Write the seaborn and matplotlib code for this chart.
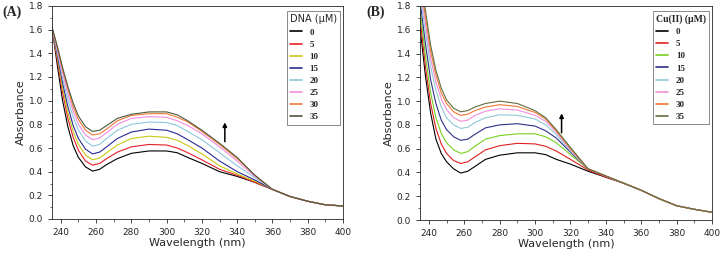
import matplotlib
matplotlib.use("Agg")
import matplotlib.pyplot as plt
from matplotlib.ticker import MultipleLocator
import numpy as np
import pandas as pd
import seaborn as sns

WAVELENGTH = [235, 238, 241, 244, 247, 250, 254, 258, 262, 266, 272, 280,
              290, 300, 306, 312, 320, 330, 340, 350, 360, 370, 380, 390, 400]
CONCS = ["0", "5", "10", "15", "20", "25", "30", "35"]

# Panel A: DNA titration
ABS_A = {
    "0":  [1.62, 1.30, 1.00, 0.78, 0.62, 0.52, 0.44, 0.405, 0.42, 0.46, 0.51, 0.555,
           0.575, 0.575, 0.56, 0.52, 0.47, 0.40, 0.36, 0.31, 0.25, 0.19, 0.15, 0.12, 0.11],
    "5":  [1.62, 1.34, 1.07, 0.85, 0.69, 0.58, 0.49, 0.455, 0.47, 0.51, 0.565, 0.61,
           0.63, 0.625, 0.60, 0.56, 0.50, 0.42, 0.37, 0.31, 0.25, 0.19, 0.15, 0.12, 0.11],
    "10": [1.62, 1.37, 1.11, 0.90, 0.74, 0.63, 0.54, 0.50, 0.515, 0.56, 0.625, 0.68,
           0.70, 0.69, 0.665, 0.62, 0.55, 0.45, 0.38, 0.32, 0.25, 0.19, 0.15, 0.12, 0.11],
    "15": [1.62, 1.39, 1.15, 0.95, 0.79, 0.68, 0.59, 0.55, 0.565, 0.61, 0.68, 0.735,
           0.76, 0.75, 0.72, 0.67, 0.60, 0.49, 0.40, 0.33, 0.25, 0.19, 0.15, 0.12, 0.11],
    "20": [1.62, 1.41, 1.19, 1.01, 0.86, 0.75, 0.66, 0.615, 0.63, 0.68, 0.75, 0.80,
           0.82, 0.815, 0.79, 0.74, 0.67, 0.56, 0.45, 0.35, 0.25, 0.19, 0.15, 0.12, 0.11],
    "25": [1.62, 1.43, 1.23, 1.06, 0.91, 0.80, 0.71, 0.67, 0.685, 0.73, 0.80, 0.85,
           0.865, 0.86, 0.83, 0.79, 0.72, 0.61, 0.49, 0.36, 0.25, 0.19, 0.15, 0.12, 0.11],
    "30": [1.62, 1.45, 1.26, 1.10, 0.95, 0.84, 0.75, 0.71, 0.72, 0.76, 0.83, 0.875,
           0.89, 0.89, 0.86, 0.82, 0.74, 0.63, 0.51, 0.37, 0.25, 0.19, 0.15, 0.12, 0.11],
    "35": [1.62, 1.46, 1.28, 1.12, 0.98, 0.87, 0.78, 0.74, 0.75, 0.79, 0.85, 0.885,
           0.905, 0.905, 0.88, 0.83, 0.75, 0.64, 0.52, 0.37, 0.25, 0.19, 0.15, 0.12, 0.11],
}

# Panel B: Cu(II) titration
ABS_B = {
    "0":  [1.62, 1.22, 0.90, 0.68, 0.56, 0.49, 0.43, 0.395, 0.41, 0.45, 0.51, 0.545,
           0.565, 0.565, 0.55, 0.51, 0.47, 0.41, 0.36, 0.31, 0.25, 0.18, 0.12, 0.09, 0.065],
    "5":  [1.70, 1.30, 0.98, 0.77, 0.64, 0.56, 0.50, 0.475, 0.49, 0.53, 0.59, 0.625,
           0.645, 0.64, 0.62, 0.58, 0.51, 0.42, 0.36, 0.31, 0.25, 0.18, 0.12, 0.09, 0.065],
    "10": [1.78, 1.39, 1.07, 0.86, 0.73, 0.65, 0.59, 0.56, 0.575, 0.62, 0.68, 0.71,
           0.725, 0.725, 0.70, 0.65, 0.55, 0.43, 0.37, 0.31, 0.25, 0.18, 0.12, 0.09, 0.065],
    "15": [1.85, 1.49, 1.18, 0.98, 0.84, 0.76, 0.70, 0.67, 0.68, 0.72, 0.775, 0.80,
           0.81, 0.79, 0.75, 0.69, 0.57, 0.43, 0.37, 0.31, 0.25, 0.18, 0.12, 0.09, 0.065],
    "20": [1.90, 1.59, 1.29, 1.09, 0.95, 0.86, 0.80, 0.77, 0.78, 0.82, 0.86, 0.885,
           0.88, 0.85, 0.80, 0.72, 0.58, 0.43, 0.37, 0.31, 0.25, 0.18, 0.12, 0.09, 0.065],
    "25": [1.95, 1.66, 1.36, 1.16, 1.02, 0.93, 0.86, 0.83, 0.84, 0.88, 0.915, 0.935,
           0.925, 0.88, 0.83, 0.74, 0.59, 0.43, 0.37, 0.31, 0.25, 0.18, 0.12, 0.09, 0.065],
    "30": [2.00, 1.72, 1.42, 1.22, 1.07, 0.98, 0.91, 0.88, 0.89, 0.92, 0.95, 0.97,
           0.955, 0.905, 0.85, 0.75, 0.60, 0.43, 0.37, 0.31, 0.25, 0.18, 0.12, 0.09, 0.065],
    "35": [2.05, 1.77, 1.47, 1.26, 1.11, 1.01, 0.94, 0.91, 0.92, 0.95, 0.98, 1.00,
           0.98, 0.92, 0.86, 0.76, 0.61, 0.43, 0.37, 0.31, 0.25, 0.18, 0.12, 0.09, 0.065],
}

COLORS_A = ["#000000", "#e8202a", "#c8c814", "#2a2a98", "#8cc8e0",
            "#f08ce0", "#f07838", "#4a5a3a"]
COLORS_B = ["#000000", "#e02020", "#78d020", "#303088", "#90c8d8",
            "#f090d8", "#f07830", "#607040"]


def to_long(data):
    rows = []
    for c in CONCS:
        for w, a in zip(WAVELENGTH, data[c]):
            rows.append({"wavelength": w, "absorbance": a, "conc": c})
    return pd.DataFrame(rows)


def draw_panel(ax, data, colors, legend_title, arrow_x, arrow_y0, arrow_y1):
    df = to_long(data)
    sns.lineplot(data=df, x="wavelength", y="absorbance", hue="conc",
                 hue_order=CONCS, palette=colors, linewidth=0.8, ax=ax,
                 legend=True)
    ax.set_xlim(235, 400)
    ax.set_ylim(0, 1.8)
    ax.xaxis.set_major_locator(MultipleLocator(20))
    ax.xaxis.set_minor_locator(MultipleLocator(10))
    ax.yaxis.set_major_locator(MultipleLocator(0.2))
    ax.yaxis.set_minor_locator(MultipleLocator(0.1))
    ax.tick_params(which="major", labelsize=6.5, length=3, width=0.6, direction="out")
    ax.tick_params(which="minor", length=1.8, width=0.5, direction="out")
    ax.set_xlabel("Wavelength (nm)", fontsize=8, labelpad=1)
    ax.set_ylabel("Absorbance", fontsize=8, labelpad=2)
    for s in ax.spines.values():
        s.set_linewidth(0.6)
    ax.annotate("", xy=(arrow_x, arrow_y1), xytext=(arrow_x, arrow_y0),
                arrowprops=dict(arrowstyle="-|>", color="black", lw=1.1,
                                mutation_scale=6))
    leg = ax.legend(title=legend_title, loc="upper right",
                    bbox_to_anchor=(0.99, 0.975),
                    handlelength=1.3, labelspacing=0.42, frameon=True,
                    fancybox=False, edgecolor="#555555",
                    prop={"family": "Liberation Serif", "weight": "bold", "size": 6.5},
                    borderpad=0.35, handletextpad=0.9, borderaxespad=0)
    leg.get_frame().set_linewidth(0.6)
    leg._legend_box.align = "left"
    for line in leg.get_lines():
        line.set_linewidth(1.2)
    return leg


sns.set_style("ticks")
plt.rcParams["font.family"] = ["DejaVu Sans"]

fig = plt.figure(figsize=(7.2, 2.56), dpi=100)
ax1 = fig.add_axes([52 / 720, 1 - 219 / 256, 291 / 720, 213 / 256])
ax2 = fig.add_axes([420 / 720, 1 - 220 / 256, 292 / 720, 214 / 256])

leg1 = draw_panel(ax1, ABS_A, COLORS_A, "DNA (μM)", 333, 0.63, 0.84)
leg1.get_title().set_fontsize(7)

leg2 = draw_panel(ax2, ABS_B, COLORS_B, "Cu(II) (μM)", 315, 0.71, 0.92)
leg2.get_title().set_fontsize(7)
leg2.get_title().set_family("Liberation Serif")
leg2.get_title().set_weight("bold")

fig.text(2 / 720, 1 - 12 / 256, "(A)", fontsize=10, fontweight="bold",
         family="Liberation Serif", va="center", ha="left")
fig.text(366 / 720, 1 - 12 / 256, "(B)", fontsize=10, fontweight="bold",
         family="Liberation Serif", va="center", ha="left")

fig.savefig("out.png", dpi=100)
